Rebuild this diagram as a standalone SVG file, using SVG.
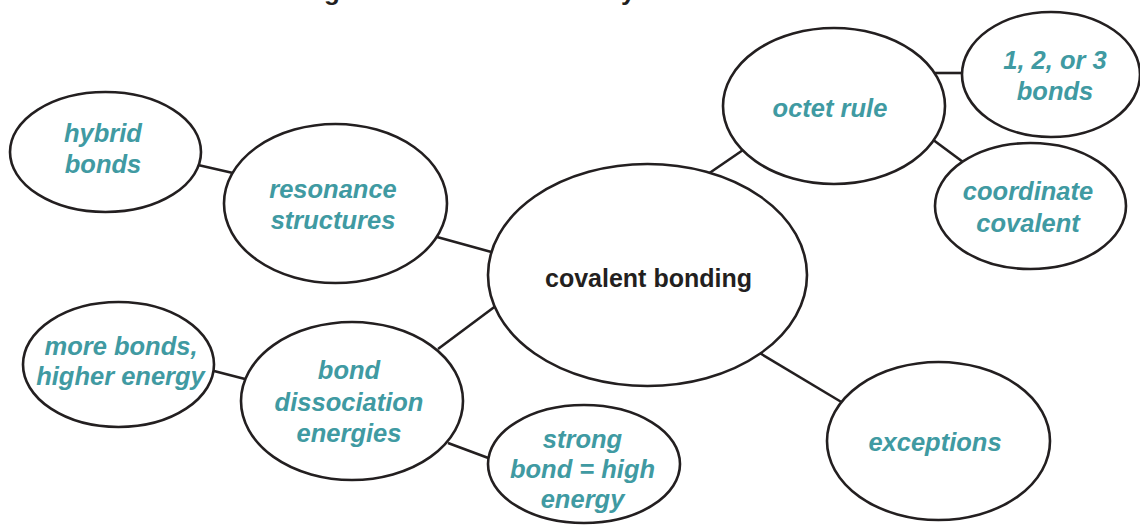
<svg xmlns="http://www.w3.org/2000/svg" width="1140" height="525" viewBox="0 0 1140 525">
<style>
.node ellipse{fill:#fff;stroke:#231f20;stroke-width:2.6}
.lbl{font-family:"Liberation Sans",Arial,sans-serif;font-weight:bold;font-style:italic;font-size:25.5px;fill:#409aa2;text-anchor:middle}
.main{font-family:"Liberation Sans",Arial,sans-serif;font-weight:bold;font-size:25px;fill:#231f20;text-anchor:middle}
.title{font-family:"Liberation Sans",Arial,sans-serif;font-weight:bold;font-size:26px;fill:#231f20}
#connectors line{stroke:#231f20;stroke-width:2.6}
</style>
<rect width="1140" height="525" fill="#fff"/>
<text class="title" x="324" y="0">g</text>
<text class="title" x="621" y="0">y</text>
<g id="connectors">
<line x1="198" y1="165" x2="233" y2="173"/>
<line x1="437" y1="237" x2="495" y2="253"/>
<line x1="438" y1="349" x2="497" y2="305"/>
<line x1="214" y1="371" x2="245" y2="379"/>
<line x1="448" y1="443" x2="491" y2="459"/>
<line x1="708" y1="174" x2="743" y2="150"/>
<line x1="758" y1="352" x2="843" y2="403"/>
<line x1="935" y1="73" x2="963" y2="73"/>
<line x1="932" y1="139" x2="963" y2="162"/>
</g>
<g id="hybrid" class="node">
<ellipse cx="105.5" cy="152" rx="95.5" ry="60"/>
<text class="lbl" x="103" y="142">hybrid</text>
<text class="lbl" x="103" y="173">bonds</text>
</g>
<g id="resonance" class="node">
<ellipse cx="335.5" cy="203.5" rx="111.5" ry="79.5"/>
<text class="lbl" x="333" y="198">resonance</text>
<text class="lbl" x="333" y="229">structures</text>
</g>
<g id="central" class="node">
<ellipse cx="647.5" cy="275" rx="159.5" ry="111"/>
<text class="main" x="648.5" y="287">covalent bonding</text>
</g>
<g id="octet" class="node">
<ellipse cx="834" cy="106" rx="111" ry="78"/>
<text class="lbl" x="830" y="117">octet rule</text>
</g>
<g id="bonds123" class="node">
<ellipse cx="1051" cy="74.5" rx="89" ry="62.5"/>
<text class="lbl" x="1055" y="69">1, 2, or 3</text>
<text class="lbl" x="1055" y="100">bonds</text>
</g>
<g id="coordinate" class="node">
<ellipse cx="1030.5" cy="206" rx="95.5" ry="63"/>
<text class="lbl" x="1028" y="200">coordinate</text>
<text class="lbl" x="1028" y="232">covalent</text>
</g>
<g id="morebonds" class="node">
<ellipse cx="118.5" cy="364.5" rx="95.5" ry="62.5"/>
<text class="lbl" x="121" y="355">more bonds,</text>
<text class="lbl" x="120.5" y="385">higher energy</text>
</g>
<g id="dissociation" class="node">
<ellipse cx="352" cy="401" rx="111" ry="79"/>
<text class="lbl" x="349" y="379">bond</text>
<text class="lbl" x="349" y="411">dissociation</text>
<text class="lbl" x="349" y="442">energies</text>
</g>
<g id="strong" class="node">
<ellipse cx="584" cy="464" rx="96" ry="59"/>
<text class="lbl" x="582.5" y="448">strong</text>
<text class="lbl" x="582.5" y="478">bond = high</text>
<text class="lbl" x="582.5" y="508">energy</text>
</g>
<g id="exceptions" class="node">
<ellipse cx="938.5" cy="441" rx="111.5" ry="79"/>
<text class="lbl" x="935" y="451">exceptions</text>
</g>
</svg>
